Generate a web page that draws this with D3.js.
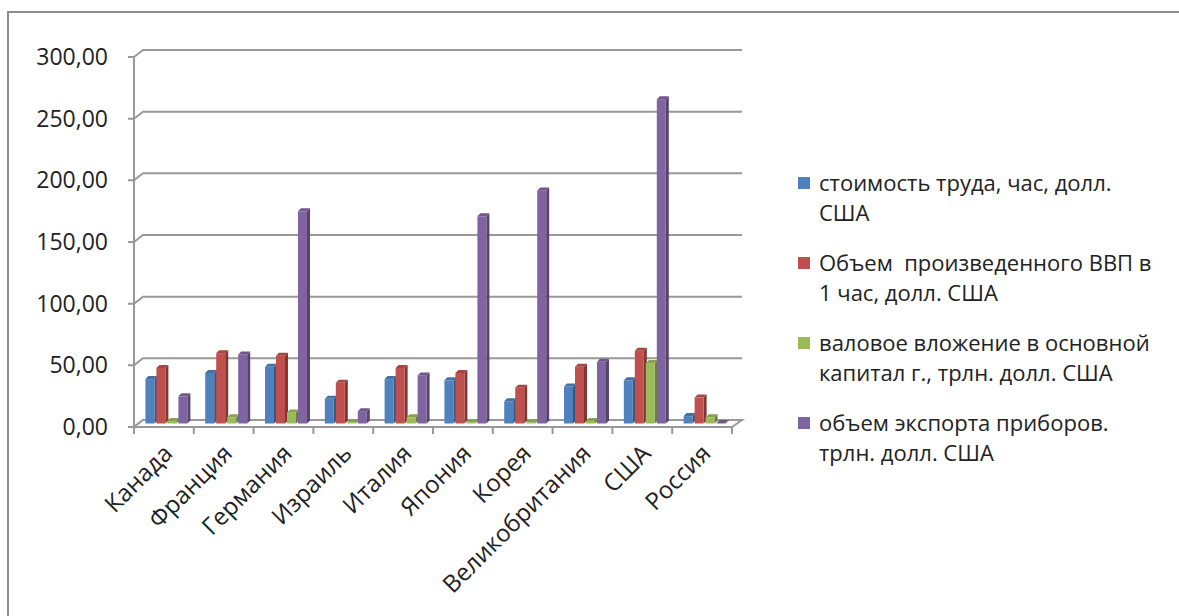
<!DOCTYPE html>
<html lang="ru">
<head>
  <meta charset="UTF-8">
  <script src="https://d3js.org/d3.v7.min.js"></script>
  <title>Стоимость труда и экспорт приборов</title>
  <style>
    body { margin: 0; background: #fff; }
    text { font-family: "Open Sans", sans-serif; fill: #222; white-space: pre; }
  </style>
</head>
<body>
  <svg width="1179" height="616"></svg>
  <script>
    const countries = ["Канада", "Франция", "Германия", "Израиль", "Италия", "Япония", "Корея", "Великобритания", "США", "Россия"];
    const laborCost = [36, 41, 46, 20, 36, 35, 18, 30, 35, 6];
    const gdpPerHour = [45, 57, 55, 33, 45, 41, 29, 46, 59, 21];
    const investment = [2, 5, 9, 1, 5, 1, 1, 2, 49, 5];
    const exportDevices = [22, 56, 172, 10, 39, 168, 189, 50, 263, 0.5];
    const seriesNames = [
      ["стоимость труда, час, долл.", "США"],
      ["Объем  произведенного ВВП в", "1 час, долл. США"],
      ["валовое вложение в основной", "капитал г., трлн. долл. США"],
      ["объем экспорта приборов.", "трлн. долл. США"]
    ];
    const yTicks = [0, 50, 100, 150, 200, 250, 300];

    const seriesValues = [laborCost, gdpPerHour, investment, exportDevices];
    const colors = ["#4f81bd", "#c0504d", "#9bbb59", "#8064a2"];

    const svg = d3.select("svg");
    const dx = 9, dy = -7;      // глубина стенки
    const bdx = 3, bdy = -3;    // глубина столбика

    // рамка диаграммы
    svg.append("rect")
      .attr("x", 8).attr("y", 12)
      .attr("width", 1250).attr("height", 700)
      .style("fill", "white").style("stroke", "#8c8c8c").style("stroke-width", 2);

    const x = d3.scaleBand().domain(countries).range([134, 732]);
    const xs = d3.scaleBand().domain(d3.range(4)).range([0, x.bandwidth()]).paddingInner(0).paddingOuter(0.72);
    const y = d3.scaleLinear().domain([0, 300]).range([427, 57]);

    // сетка на задней стенке
    const grid = svg.append("g").attr("id", "grid");
    yTicks.forEach(t => {
      grid.append("path")
        .attr("d", `M128,${y(t)} L134,${y(t)} L${134 + dx},${y(t) + dy} L${742},${y(t) + dy}`)
        .style("fill", "none").style("stroke", "#999").style("stroke-width", 2);
    });

    // пол
    const x0 = 134, x1 = 732, y0 = y(0);
    svg.append("path")
      .attr("d", `M${x0},${y0} L${x0 + dx},${y0 + dy} L${x1 + dx + 1},${y0 + dy} L${x1},${y0} Z`)
      .style("fill", "white").style("stroke", "#999").style("stroke-width", 2);

    // ось Y
    svg.append("line")
      .attr("x1", 134).attr("x2", 134).attr("y1", y(300)).attr("y2", y(0))
      .style("stroke", "#999").style("stroke-width", 2);

    const yAxis = d3.axisLeft(y).tickValues(yTicks).tickSize(0).tickPadding(26)
      .tickFormat(d => d3.format(".2f")(d).replace(".", ","));
    svg.append("g").attr("id", "yAxisG")
      .attr("transform", "translate(134,0)")
      .call(yAxis)
      .call(g => g.select(".domain").remove())
      .selectAll("text")
      .style("font-size", "23px").style("font-family", "Open Sans, sans-serif").attr("fill", "#222");

    // деления оси X
    const bounds = countries.map(c => x(c)).concat([x1]);
    svg.append("g").selectAll("line")
      .data(bounds).enter().append("line")
      .attr("x1", d => d).attr("x2", d => d)
      .attr("y1", y0).attr("y2", y0 + 7)
      .style("stroke", "#999").style("stroke-width", 2);

    // подписи стран
    svg.append("g").selectAll("text")
      .data(countries).enter().append("text")
      .attr("transform", d => `translate(${x(d) + x.bandwidth() / 2 + 4},${y0 + 22}) rotate(-45)`)
      .attr("text-anchor", "end")
      .attr("dy", "0.35em")
      .style("font-size", "24px")
      .text(d => d);

    // 3D-столбики
    const shade = (c, k) => d3.color(c).darker(k).formatHex();
    const bars = svg.append("g").attr("id", "bars");
    countries.forEach((c, i) => {
      seriesValues.forEach((vals, s) => {
        const v = vals[i];
        const bx = x(c) + xs(s) + 3.5;
        const w = xs.bandwidth() - bdx + 1;
        const yb = y(0) - 3.5;
        const yt = y(v) - 3.5;
        const g = bars.append("g");
        // правая грань
        g.append("path")
          .attr("d", `M${bx + w},${yb} L${bx + w + bdx},${yb + bdy} L${bx + w + bdx},${yt + bdy} L${bx + w},${yt} Z`)
          .style("fill", shade(colors[s], 1.1));
        // передняя грань
        g.append("rect")
          .attr("x", bx).attr("y", yt)
          .attr("width", w).attr("height", Math.max(0, yb - yt))
          .style("fill", colors[s]);
        // верх
        g.append("path")
          .attr("d", `M${bx},${yt} L${bx + bdx},${yt + bdy} L${bx + w + bdx},${yt + bdy} L${bx + w},${yt} Z`)
          .style("fill", shade(colors[s], 0.4));
      });
    });

    // легенда
    const legend = svg.append("g").attr("id", "legend");
    seriesNames.forEach((lines, s) => {
      const ly = 183 + s * 80;
      legend.append("rect")
        .attr("x", 798).attr("y", ly - 6).attr("width", 12).attr("height", 12)
        .style("fill", colors[s]);
      lines.forEach((t, k) => {
        legend.append("text")
          .attr("x", 819).attr("y", ly + k * 30)
          .attr("dy", "0.35em")
          .style("font-size", "22px")
          .text(t);
      });
    });
  </script>
</body>
</html>
